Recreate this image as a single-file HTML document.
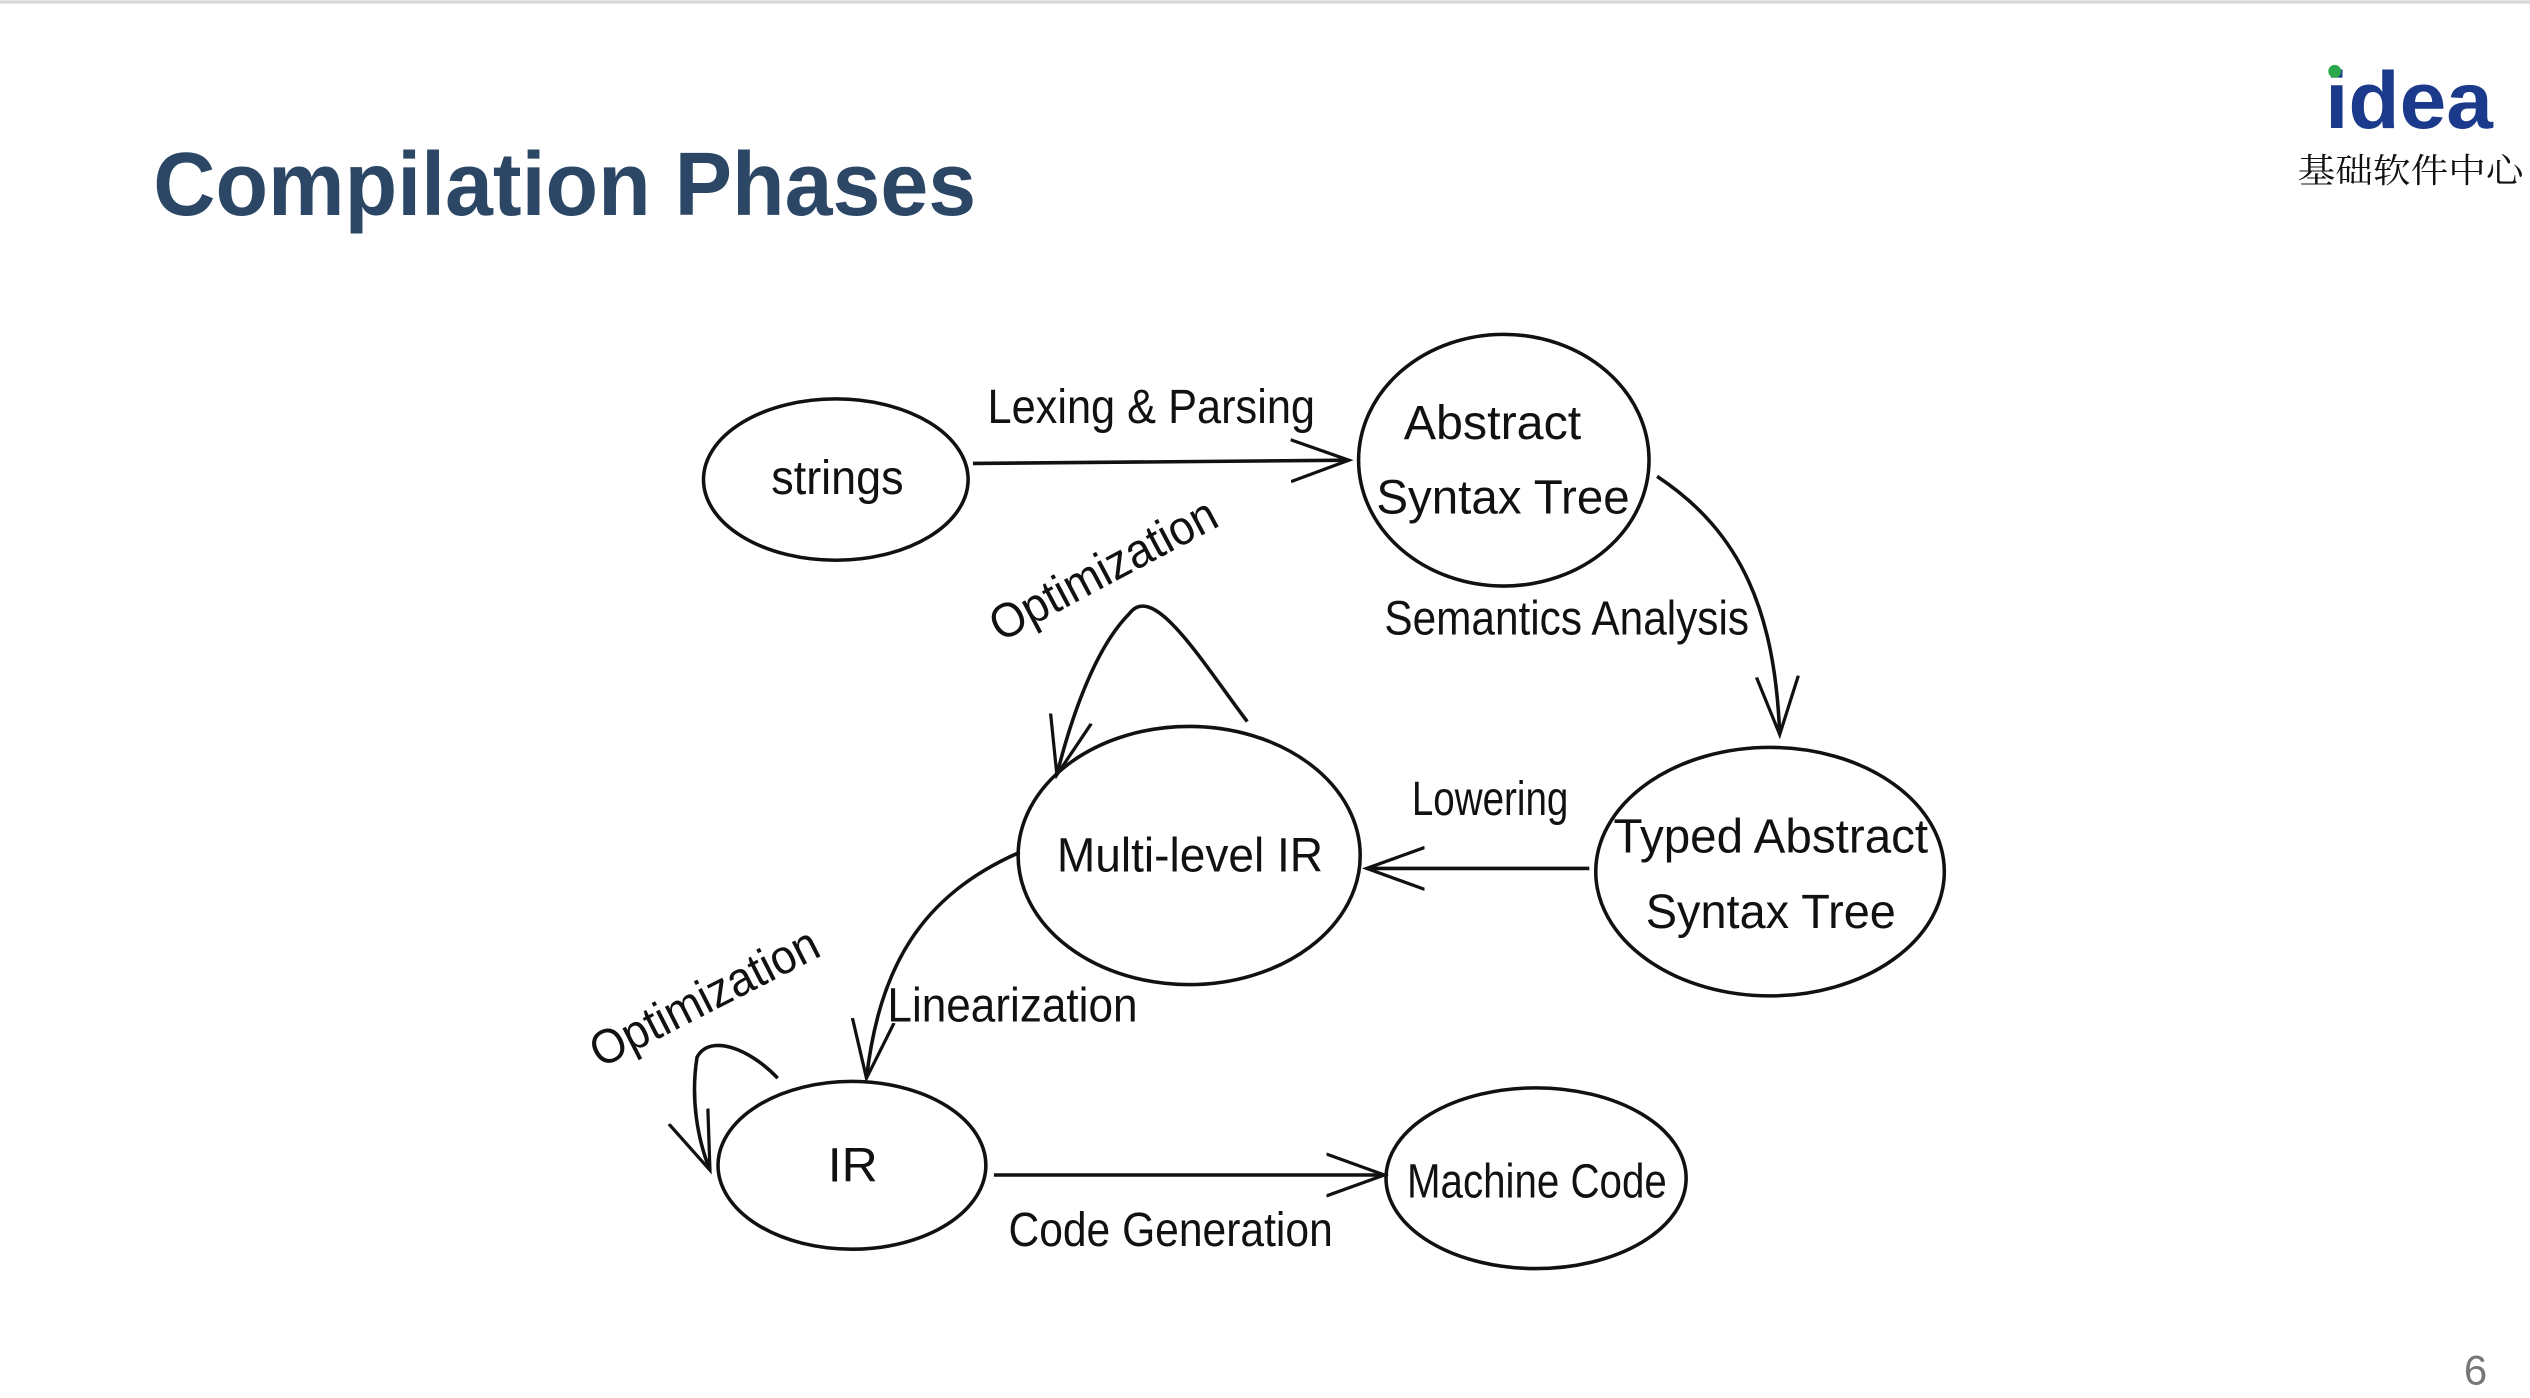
<!DOCTYPE html>
<html><head><meta charset="utf-8"><style>
html,body{margin:0;padding:0;background:#fff;}
svg{display:block}
.h{font-family:"Liberation Sans",sans-serif;fill:#111;font-size:29px;}
</style></head><body>
<svg width="2530" height="1398" viewBox="0 0 1568 866" xmlns="http://www.w3.org/2000/svg">
<defs>
<marker id="b" markerWidth="40" markerHeight="30" refX="36" refY="15" orient="auto" markerUnits="userSpaceOnUse">
<path d="M0,2 L36,15 L0,28" fill="none" stroke="#111" stroke-width="2"/>
</marker>
</defs>
<rect x="0" y="0" width="1568" height="2" fill="#d8d8d8"/>
<text x="95" y="133" font-family="Liberation Sans,sans-serif" font-size="56" font-weight="bold" fill="#2c4766" textLength="510" lengthAdjust="spacingAndGlyphs">Compilation Phases</text>
<text x="1441" y="79" font-family="Liberation Sans,sans-serif" font-size="50" font-weight="bold" fill="#1b3a8c" textLength="104" lengthAdjust="spacingAndGlyphs">idea</text>
<circle cx="1447" cy="44" r="4" fill="#2aa84a"/>
<text x="1424" y="113" font-family="'Noto Serif CJK SC','Noto Sans CJK SC',serif" font-size="21" fill="#111" textLength="140" lengthAdjust="spacingAndGlyphs">基础软件中心</text>
<text x="1527" y="858" font-family="Liberation Sans,sans-serif" font-size="26" fill="#777">6</text>

<g fill="none" stroke="#111" stroke-width="2.2">
<ellipse cx="518" cy="297" rx="82" ry="50"/>
<ellipse cx="932" cy="285" rx="90" ry="78"/>
<ellipse cx="1097" cy="540" rx="108" ry="77"/>
<ellipse cx="737" cy="530" rx="106" ry="80"/>
<ellipse cx="528" cy="722" rx="83" ry="52"/>
<ellipse cx="952" cy="730" rx="93" ry="56"/>
<path d="M603,287 L836,285" marker-end="url(#b)"/>
<path d="M1027,295 C1080,330 1100,380 1103,455" marker-end="url(#b)"/>
<path d="M985,538 L847,538" marker-end="url(#b)"/>
<path d="M773,447 C745,410 715,360 700,380 C680,400 665,440 655,480" marker-end="url(#b)"/>
<path d="M632,528 C570,555 545,600 537,668" marker-end="url(#b)"/>
<path d="M482,668 C465,650 440,640 432,655 C428,680 432,705 440,725" marker-end="url(#b)"/>
<path d="M616,728 L858,728" marker-end="url(#b)"/>
</g>

<g class="h" style="font-size:30px">
<text x="478" y="306" textLength="82" lengthAdjust="spacingAndGlyphs">strings</text>
<text x="870" y="272" textLength="110" lengthAdjust="spacingAndGlyphs">Abstract</text>
<text x="853" y="318" textLength="157" lengthAdjust="spacingAndGlyphs">Syntax Tree</text>
<text x="1000" y="528" textLength="195" lengthAdjust="spacingAndGlyphs">Typed Abstract</text>
<text x="1020" y="575" textLength="155" lengthAdjust="spacingAndGlyphs">Syntax Tree</text>
<text x="655" y="540" textLength="165" lengthAdjust="spacingAndGlyphs">Multi-level IR</text>
<text x="513" y="732" textLength="31" lengthAdjust="spacingAndGlyphs">IR</text>
<text x="872" y="742" textLength="161" lengthAdjust="spacingAndGlyphs">Machine Code</text>
<text x="612" y="262" textLength="203" lengthAdjust="spacingAndGlyphs">Lexing &amp; Parsing</text>
<text x="858" y="393" textLength="226" lengthAdjust="spacingAndGlyphs">Semantics Analysis</text>
<text x="875" y="505" textLength="97" lengthAdjust="spacingAndGlyphs">Lowering</text>
<text x="550" y="633" textLength="155" lengthAdjust="spacingAndGlyphs">Linearization</text>
<text x="625" y="772" textLength="201" lengthAdjust="spacingAndGlyphs">Code Generation</text>
<text transform="translate(620,398) rotate(-28)" textLength="155" lengthAdjust="spacingAndGlyphs">Optimization</text>
<text transform="translate(372,662) rotate(-27)" textLength="155" lengthAdjust="spacingAndGlyphs">Optimization</text>
</g>
</svg>
</body></html>
